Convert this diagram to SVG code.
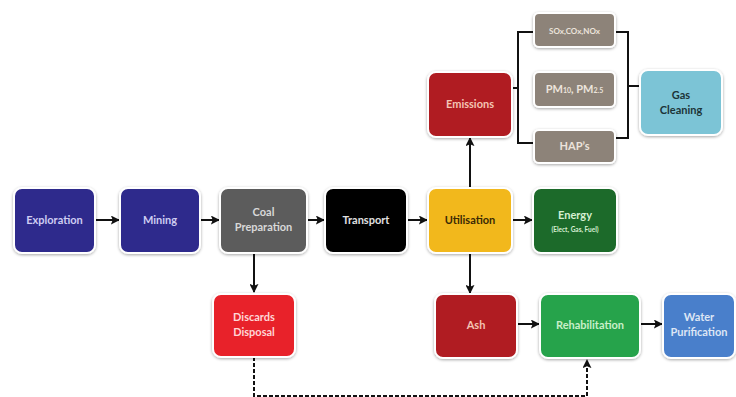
<svg xmlns="http://www.w3.org/2000/svg" width="736" height="397" viewBox="0 0 736 397">
<style>
.b{stroke:#ffffff;stroke-width:2;filter:url(#sh)}
.t{font-family:Lato,"Liberation Sans",sans-serif;font-weight:bold;font-size:11px;text-anchor:middle}
.c{fill:none;stroke:#111;stroke-width:2}
.d{fill:none;stroke:#111;stroke-width:2;stroke-dasharray:4 2}
</style>
<defs>
<filter id="sh" x="-20%" y="-20%" width="140%" height="140%">
<feDropShadow dx="0" dy="1" stdDeviation="1.6" flood-color="#000" flood-opacity="0.35"/>
</filter>
<marker id="a" viewBox="0 0 10 10" refX="9" refY="5" markerWidth="4.5" markerHeight="4.5" orient="auto">
<path d="M0,0 L10,5 L0,10 L2,5 Z" fill="#111"/>
</marker>
</defs>
<rect width="736" height="397" fill="#ffffff"/>
<g id="connectors">
<line class="c" x1="95" y1="220" x2="119" y2="220" marker-end="url(#a)"/>
<line class="c" x1="200" y1="220" x2="219" y2="220" marker-end="url(#a)"/>
<line class="c" x1="307" y1="220" x2="324" y2="220" marker-end="url(#a)"/>
<line class="c" x1="407" y1="220" x2="427" y2="220" marker-end="url(#a)"/>
<line class="c" x1="512" y1="220" x2="532" y2="220" marker-end="url(#a)"/>
<line class="c" x1="254" y1="253" x2="254" y2="292" marker-end="url(#a)"/>
<line class="c" x1="470" y1="253" x2="470" y2="293" marker-end="url(#a)"/>
<line class="c" x1="470" y1="188" x2="470" y2="138" marker-end="url(#a)"/>
<line class="c" x1="517" y1="324" x2="539" y2="324" marker-end="url(#a)"/>
<line class="c" x1="640" y1="324" x2="662" y2="324" marker-end="url(#a)"/>
<path class="c" d="M512,88 H518 M534,32 H518 V143 H534"/>
<path class="c" d="M615,32 H628 V138 H615 M628,86 H640"/>
<path class="d" d="M254,357 V396 H587 V360" marker-end="url(#a)"/>
</g>
<g id="exploration"><rect class="b" x="14" y="188" width="81" height="65" rx="8" fill="#2f2a8c"/><text class="t" x="54.5" y="224" fill="#cfcdf2">Exploration</text></g>
<g id="mining"><rect class="b" x="120" y="188" width="80" height="65" rx="8" fill="#2f2a8c"/><text class="t" x="160" y="224" fill="#cfcdf2">Mining</text></g>
<g id="coal-preparation"><rect class="b" x="220" y="188" width="87" height="65" rx="8" fill="#5c5c5c"/><text class="t" x="263.5" y="216" fill="#d8d8d8">Coal</text><text class="t" x="263.5" y="231" fill="#d8d8d8">Preparation</text></g>
<g id="transport"><rect class="b" x="325" y="188" width="82" height="65" rx="8" fill="#050505"/><text class="t" x="366" y="224" fill="#e0e0e0">Transport</text></g>
<g id="utilisation"><rect class="b" x="428" y="188" width="84" height="65" rx="8" fill="#f2b81c"/><text class="t" x="470" y="224" fill="#3a2a05">Utilisation</text></g>
<g id="energy"><rect class="b" x="533" y="188" width="84" height="65" rx="8" fill="#1f6a2b"/><text class="t" x="575" y="219" fill="#d6efd2">Energy</text><text class="t" x="575" y="232" fill="#d6efd2" style="font-size:6.5px">(Elect, Gas, Fuel)</text></g>
<g id="emissions"><rect class="b" x="428" y="72" width="84" height="65" rx="8" fill="#b01d22"/><text class="t" x="470" y="108" fill="#f4c4b4">Emissions</text></g>
<g id="sox"><rect class="b" x="534" y="13" width="81" height="34" rx="5" fill="#8d8379"/><text class="t" x="574.5" y="34" fill="#ece4dc" style="font-size:8px">SOx,COx,NOx</text></g>
<g id="pm"><rect class="b" x="534" y="72" width="81" height="35" rx="5" fill="#8d8379"/><text class="t" x="574.5" y="93" fill="#ece4dc">PM<tspan style="font-size:7px">10</tspan>, PM<tspan style="font-size:7px">2.5</tspan></text></g>
<g id="haps"><rect class="b" x="534" y="130" width="81" height="33" rx="5" fill="#8d8379"/><text class="t" x="574.5" y="150" fill="#ece4dc">HAP’s</text></g>
<g id="gas-cleaning"><rect class="b" x="640" y="70" width="82" height="65" rx="8" fill="#7cc4d6"/><text class="t" x="681" y="99" fill="#1d3438">Gas</text><text class="t" x="681" y="114" fill="#1d3438">Cleaning</text></g>
<g id="discards-disposal"><rect class="b" x="213" y="294" width="82" height="63" rx="8" fill="#e8232a"/><text class="t" x="254" y="321" fill="#ffd6d6">Discards</text><text class="t" x="254" y="336" fill="#ffd6d6">Disposal</text></g>
<g id="ash"><rect class="b" x="435" y="294" width="82" height="64" rx="8" fill="#b01d22"/><text class="t" x="476" y="329" fill="#f4c4b4">Ash</text></g>
<g id="rehabilitation"><rect class="b" x="540" y="294" width="100" height="64" rx="8" fill="#25a34b"/><text class="t" x="590" y="329" fill="#c9efc9">Rehabilitation</text></g>
<g id="water-purification"><rect class="b" x="663" y="294" width="72" height="64" rx="8" fill="#4a7fcb"/><text class="t" x="699" y="321" fill="#dde6f5">Water</text><text class="t" x="699" y="336" fill="#dde6f5">Purification</text></g>
</svg>
